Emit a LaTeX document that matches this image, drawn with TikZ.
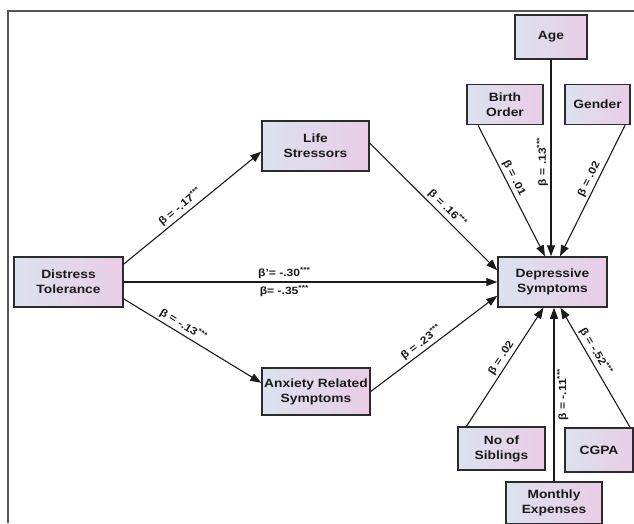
\documentclass[tikz,border=0pt]{standalone}
\usepackage{fontspec}
\setmainfont{Liberation Sans}[FakeStretch=1.15]
\usetikzlibrary{arrows.meta}
\definecolor{boxl}{HTML}{DCE2EF}
\definecolor{boxr}{HTML}{E9CDE6}
\definecolor{edge}{HTML}{2C2C2C}
\definecolor{ink}{HTML}{1A1A1A}
\definecolor{framec}{HTML}{555555}
\begin{document}
\begin{tikzpicture}[x=1pt,y=-1pt,
  box/.style={draw=edge, line width=1.5pt, left color=boxl, right color=boxr,
    align=center, inner sep=0pt, text=ink,
    font=\bfseries\fontsize{12}{15}\selectfont},
  conn/.style={draw=ink, line width=1.1pt, -{Triangle[length=11pt,width=8pt]}},
  lab/.style={font=\bfseries\fontsize{10.5}{11}\selectfont, text=ink, inner sep=2.5pt},
  frame/.style={draw=framec, line width=1.5pt}
]
\useasboundingbox (0,0) rectangle (634,523);
\draw[frame] (8,523) -- (8,11) -- (634,11);

\node[box, minimum width=109pt, minimum height=50pt] (DT) at (68.5,282) {Distress\\Tolerance};
\node[box, minimum width=107pt, minimum height=50pt] (LS) at (315.5,146) {Life\\Stressors};
\node[box, minimum width=108pt, minimum height=47pt] (ARS) at (316,391.5) {Anxiety Related\\Symptoms};
\node[box, minimum width=109pt, minimum height=50pt] (DS) at (552.5,282) {Depressive\\Symptoms};
\node[box, minimum width=72pt, minimum height=44pt] (AGE) at (551,37) {Age};
\node[box, minimum width=76pt, minimum height=40pt] (BO) at (505,104.5) {Birth\\Order};
\node[box, minimum width=65pt, minimum height=40pt] (GEN) at (597.5,104.5) {Gender};
\node[box, minimum width=87pt, minimum height=43pt] (NOS) at (501.5,448.5) {No of\\Siblings};
\node[box, minimum width=68pt, minimum height=44pt] (CGPA) at (599,450) {CGPA};
\node[box, minimum width=96pt, minimum height=42pt] (ME) at (554,503) {Monthly\\Expenses};

\draw[conn] (DT.18) -- node[lab, sloped, above, pos=0.45] {β = -.17\textsuperscript{***}} (LS.186);
\draw[conn] (DT.-17) -- node[lab, sloped, above, pos=0.4] {β = -.13\textsuperscript{***}} (ARS.171);
\draw[conn] (DT.east) --
  node[lab, above, pos=0.43] {β'= -.30\textsuperscript{***}}
  node[lab, below, pos=0.43] {β= -.35\textsuperscript{***}} (DS.west);
\draw[conn] (LS.3) -- node[lab, sloped, above, pos=0.56] {β = .16\textsuperscript{***}} (DS.168);
\draw[conn] (ARS.east) -- node[lab, sloped, above, pos=0.44] {β = .23\textsuperscript{***}} (DS.194);

\draw[conn] ([xshift=-27pt]BO.south) -- node[lab, sloped, above, pos=0.43] {β = .01} ([xshift=-7.5pt]DS.north);
\draw[conn] (AGE.south) -- node[lab, rotate=90, above, pos=0.52] {β = .13\textsuperscript{***}} ([xshift=-1.5pt]DS.north);
\draw[conn] ([xshift=27.5pt]GEN.south) -- node[lab, sloped, above, pos=0.44] {β = .02} ([xshift=7.5pt]DS.north);

\draw[conn] ([xshift=-35pt]NOS.north) -- node[lab, sloped, above, pos=0.54] {β = .02} ([xshift=-9pt]DS.south);
\draw[conn] (ME.north) -- node[lab, rotate=90, below, pos=0.5] {β = -.11\textsuperscript{***}} (ME.north |- DS.south);
\draw[conn] ([xshift=31pt]CGPA.north) -- node[lab, sloped, above, pos=0.6] {β = -.52\textsuperscript{***}} ([xshift=8pt]DS.south);
\end{tikzpicture}
\end{document}
